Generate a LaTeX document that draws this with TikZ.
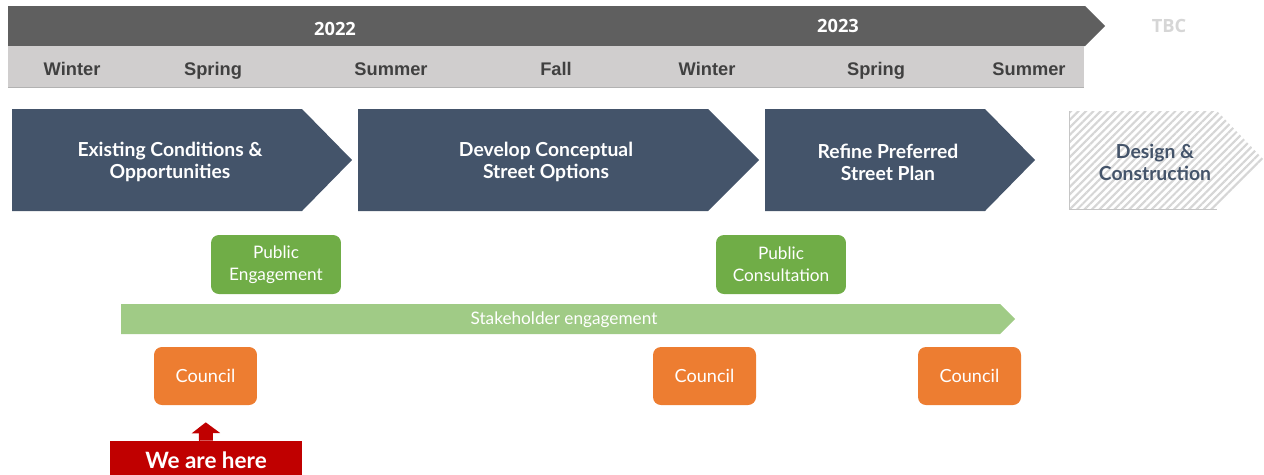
\documentclass[tikz,border=0pt]{standalone}
\usepackage{fontspec}
\setmainfont{Lato}
\newfontfamily\seasonfont{Liberation Sans}
\newfontfamily\yearfont{Open Sans}
\usetikzlibrary{arrows.meta,patterns.meta}
\definecolor{bardark}{HTML}{5F5F5F}
\definecolor{barlight}{HTML}{D0CECE}
\definecolor{seasontext}{HTML}{404040}
\definecolor{phaseblue}{HTML}{44546A}
\definecolor{engagegreen}{HTML}{70AD47}
\definecolor{stakegreen}{HTML}{A0CB86}
\definecolor{councilorange}{HTML}{ED7D31}
\definecolor{herered}{HTML}{C00000}
\definecolor{hatchgray}{HTML}{D6D6D6}
\tikzset{
  yearlabel/.style={
    anchor=base,
    text=white,
    font=\yearfont\bfseries\fontsize{10.4}{12}\selectfont
  },
  seasonlabel/.style={
    anchor=base,
    text=seasontext,
    font=\seasonfont\bfseries\fontsize{10.4}{12}\selectfont
  },
  phaselabel/.style={
    text=white,
    align=center,
    font=\bfseries\fontsize{11}{12.5}\selectfont
  },
  greenbox/.style={
    rounded corners=4.5pt,
    fill=engagegreen,
    text=white,
    minimum width=2.6cm,
    minimum height=1.18cm,
    align=center,
    font=\fontsize{9.8}{12.5}\selectfont
  },
  councilbox/.style={
    rounded corners=4.5pt,
    fill=councilorange,
    text=white,
    minimum width=2.06cm,
    minimum height=1.16cm,
    font=\fontsize{10.3}{12}\selectfont
  },
  herebox/.style={
    fill=herered,
    text=white,
    minimum width=3.84cm,
    minimum height=0.76cm,
    font=\bfseries\fontsize{12.8}{14}\selectfont
  },
  herearrow/.style={
    draw=herered,
    line width=0.28cm,
    -{Triangle[length=6.2pt,width=16pt]}
  }
}

\begin{document}
\begin{tikzpicture}[x=0.02cm, y=-0.02cm]
\useasboundingbox (0,0) rectangle (1264,474);
% timeline header
\fill[bardark] (8,6) -- (1085,6) -- (1105,26) -- (1085,46) -- (8,46) -- cycle;
\fill[barlight] (8,46) rectangle (1084,87);
\draw[gray!60, thin] (8,87) -- (1084,87);
\node[yearlabel] (y2022) at (335,35.5) {2022};
\node[yearlabel] (y2023) at (838,32.5) {2023};
\node[yearlabel, text=hatchgray] (tbc) at (1169,32.5) {TBC};
\node[seasonlabel] (winterA) at (72,75) {Winter};
\node[seasonlabel] (springA) at (213,75.5) {Spring};
\node[seasonlabel] (summerA) at (391,75.5) {Summer};
\node[seasonlabel] (fallA) at (556,75.5) {Fall};
\node[seasonlabel] (winterB) at (707,75.5) {Winter};
\node[seasonlabel] (springB) at (876,75.5) {Spring};
\node[seasonlabel] (summerB) at (1029,75) {Summer};
% phases
\fill[phaseblue] (12,109) -- (302,109) -- (352,160) -- (302,211) -- (12,211) -- cycle;
\fill[phaseblue] (358,109) -- (708,109) -- (759,160) -- (708,211) -- (358,211) -- cycle;
\fill[phaseblue] (765,109) -- (985,109) -- (1035,160) -- (985,211) -- (765,211) -- cycle;
\fill[white] (1069,111) -- (1217,111) -- (1264,160) -- (1217,209) -- (1069,209) -- cycle;
\fill[pattern={Lines[angle=45,distance=3pt,line width=1.2pt]}, pattern color=hatchgray]
  (1069,111) -- (1217,111) -- (1264,160) -- (1217,209) -- (1069,209) -- cycle;
\draw[gray!45, thin] (1069,111) -- (1069,209) -- (1217,209);
\node[phaselabel] (existing) at (170,162) {Existing Conditions \&\\Opportunities};
\node[phaselabel] (develop) at (546,162) {Develop Conceptual\\Street Options};
\node[phaselabel] (refine) at (888,162) {Refine Preferred\\Street Plan};
\node[phaselabel, text=phaseblue] (design) at (1155,162) {Design \&\\Construction};
% engagement
\node[greenbox] (engage) at (276,264.5) {Public\\Engagement};
\node[greenbox] (consult) at (781,264.5) {Public\\Consultation};
\fill[stakegreen] (121,304) -- (1000,304) -- (1015,319) -- (1000,334) -- (121,334) -- cycle;
\node[text=white, font=\fontsize{9.8}{12}\selectfont] (stake) at (564,320) {Stakeholder engagement};
% council meetings
\node[councilbox] (councilA) at (205.5,376) {Council};
\node[councilbox] (councilB) at (704.5,376) {Council};
\node[councilbox] (councilC) at (969.5,376) {Council};
% current position
\node[herebox] (here) at (206,460) {We are here};
\draw[herearrow, shorten >=17*0.02cm] (here.north) -- (councilA.south);
\end{tikzpicture}
\end{document}
